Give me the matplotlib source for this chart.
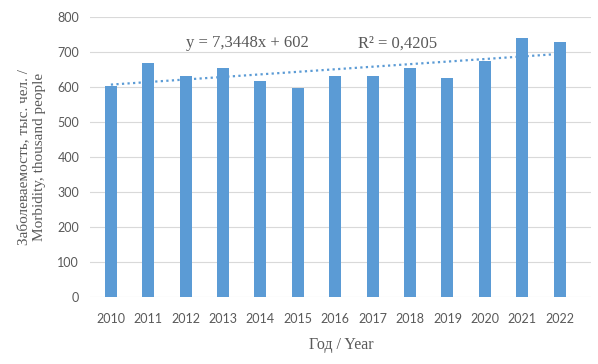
import numpy as np
import matplotlib
matplotlib.use('Agg')
from matplotlib import pyplot as plt

years = ['2010', '2011', '2012', '2013', '2014', '2015', '2016',
         '2017', '2018', '2019', '2020', '2021', '2022']
morbidity = [602, 668, 632, 654, 618, 599, 632, 632, 656, 626, 676, 740, 730]
yticks = [0, 100, 200, 300, 400, 500, 600, 700, 800]

blue = '#5B9BD5'
grey = '#595959'

fig = plt.figure(figsize=(5.98, 3.64), dpi=100)
ax = fig.add_axes([0.151, 0.183, 0.838, 0.77])

x = np.arange(len(years))
ax.bar(x, morbidity, width=0.32, color=blue, zorder=2)

# linear trend, x = 1..n like Excel
xs = x + 1
k, b = np.polyfit(xs, morbidity, 1)
ax.plot(x, k * xs + b, linestyle=(0, (1, 1.5)), color=blue, linewidth=1.6, zorder=3)

ax.set_xlim(-0.55, 12.85)
ax.set_ylim(0, 800)
ax.set_yticks(yticks)
ax.set_xticks(x)
ax.set_xticklabels(years)
ax.grid(axis='y', color='#D9D9D9', linewidth=0.8, zorder=0)
ax.tick_params(axis='x', length=0, labelsize=9, labelcolor=grey, pad=11)
ax.tick_params(axis='y', length=0, labelsize=9, labelcolor=grey, pad=8)
for lab in ax.get_xticklabels() + ax.get_yticklabels():
    lab.set_family('Lato')
for s in ax.spines.values():
    s.set_visible(False)

ax.set_xlabel('Год / Year', family='Liberation Serif', fontsize=11.5, color=grey, labelpad=9)
ax.set_ylabel('Заболеваемость, тыс. чел. /\nMorbidity, thousand people',
              family='Liberation Serif', fontsize=11, color=grey, labelpad=8, linespacing=1.35)

ax.text(0.19, 0.906, 'y = 7,3448x + 602', transform=ax.transAxes,
        family='Liberation Serif', fontsize=12, color=grey, va='center')
ax.text(0.535, 0.906, 'R² = 0,4205', transform=ax.transAxes,
        family='Liberation Serif', fontsize=12, color=grey, va='center')

fig.savefig('out.png', dpi=100)
